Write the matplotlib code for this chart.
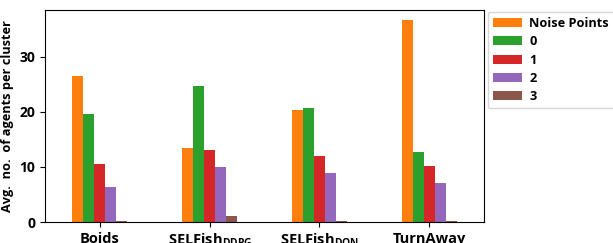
import matplotlib
matplotlib.use('Agg')
import matplotlib.pyplot as plt
import pandas as pd

# values
methods = ['Boids', r'SELFish$_\mathbf{DDPG}$', r'SELFish$_\mathbf{DQN}$', 'TurnAway']
noise_points = [26.5, 13.5, 20.4, 36.7]
cluster_0 = [19.6, 24.7, 20.7, 12.7]
cluster_1 = [10.5, 13.1, 11.9, 10.2]
cluster_2 = [6.4, 9.9, 8.9, 7.1]
cluster_3 = [0.1, 1.1, 0.1, 0.1]

plt.rcParams['font.family'] = ['Open Sans', 'DejaVu Sans']
plt.rcParams['font.weight'] = 'bold'
plt.rcParams['mathtext.fontset'] = 'custom'
plt.rcParams['mathtext.bf'] = 'Open Sans:bold'
plt.rcParams['mathtext.rm'] = 'Open Sans:bold'
plt.rcParams['mathtext.default'] = 'bf'

df = pd.DataFrame({'Noise Points': noise_points, '0': cluster_0, '1': cluster_1,
                   '2': cluster_2, '3': cluster_3}, index=methods)

fig = plt.figure(figsize=(6.13, 2.43), dpi=100)
ax = fig.add_axes([45 / 613, 21 / 243, 439 / 613, 212 / 243])
colors = ['#ff7f0e', '#2ca02c', '#d62728', '#9467bd', '#8c564b']
df.plot.bar(ax=ax, color=colors, rot=0, legend=False)

ax.set_ylim(0, 38.5)
ax.set_yticks([0, 10, 20, 30])
ax.tick_params(axis='y', labelsize=10)
ax.tick_params(axis='x', labelsize=10.5)
for lbl in ax.get_xticklabels() + ax.get_yticklabels():
    lbl.set_fontweight('bold')
ax.set_ylabel('Avg.  no.  of agents per cluster', fontsize=9.2, fontweight='bold', labelpad=4)
ax.legend(loc='upper left', bbox_to_anchor=(1.0, 1.01),
          prop={'weight': 'bold', 'size': 9.2}, handlelength=2.25, borderaxespad=0.3,
          labelspacing=0.42, handletextpad=0.6)

fig.savefig('out.png', dpi=100)
